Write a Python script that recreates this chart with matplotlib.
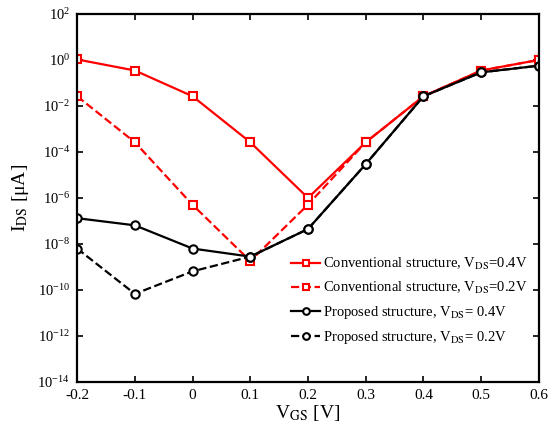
import numpy as np
import matplotlib
matplotlib.use("Agg")
import matplotlib.pyplot as plt

plt.rcParams['font.family'] = ['Liberation Serif', 'DejaVu Serif']
plt.rcParams['mathtext.fontset'] = 'stix'

vgs = [-0.2, -0.1, 0.0, 0.1, 0.2, 0.3, 0.4, 0.5, 0.6]
# log10 of I_DS [uA]
conv_04 = [0.02, -0.46, -1.58, -3.58, -6.0, -3.58, -1.58, -0.46, 0.0]
conv_02 = [-1.58, -3.58, -6.3, -8.74, -6.29, -3.58, -1.58, -0.46, 0.0]
prop_04 = [-6.88, -7.19, -8.2, -8.55, -7.35, -4.53, -1.58, -0.54, -0.25]
prop_02 = [-8.2, -10.17, -9.19, -8.55, -7.35, -4.53, -1.58, -0.54, -0.25]

labels = ["Conventional structure, V$_{\\rm DS}$=0.4V",
          "Conventional structure, V$_{\\rm DS}$=0.2V",
          "Proposed structure, V$_{\\rm DS}$= 0.4V",
          "Proposed structure, V$_{\\rm DS}$= 0.2V"]

fig = plt.figure(figsize=(5.55, 4.28), dpi=100)
ax = fig.add_axes([0.139, 0.1075, 0.832, 0.86])

mk = dict(markerfacecolor='white', markeredgewidth=1.5, markersize=6)
ax.plot(vgs, 10**np.array(conv_04), '-', color='red', marker='s', lw=1.6, label=labels[0], **mk)
ax.plot(vgs, 10**np.array(conv_02), '--', color='red', marker='s', lw=1.6, label=labels[1], **mk)
ax.plot(vgs, 10**np.array(prop_04), '-', color='black', marker='o', lw=1.6, label=labels[2], **mk)
ax.plot(vgs, 10**np.array(prop_02), '--', color='black', marker='o', lw=1.6, label=labels[3], **mk)

ax.set_yscale('log')
ax.set_ylim(1e-14, 1e2)
ax.set_xlim(-0.2, 0.6)
ax.set_yticks([10.0**k for k in range(-14, 3, 2)])
ax.minorticks_off()
ax.set_xticks([-0.2, -0.1, 0, 0.1, 0.2, 0.3, 0.4, 0.5, 0.6])
ax.set_xticklabels(['-0.2', '-0.1', '0', '0.1', '0.2', '0.3', '0.4', '0.5', '0.6'])
ax.tick_params(direction='in', top=True, right=True, labelsize=11, length=4, width=1.2)
ax.tick_params(axis='y', pad=5, labelsize=10.5)
ax.tick_params(axis='x', pad=5)
for s in ax.spines.values():
    s.set_linewidth(1.6)

ax.set_xlabel("V$_{\\rm GS}$ [V]", fontsize=14, labelpad=1)
ax.set_ylabel("I$_{\\rm DS}$ [μA]", fontsize=14, labelpad=5)

ax.legend(loc='center left', bbox_to_anchor=(0.435, 0.22), frameon=False, fontsize=10.5,
          handlelength=2.0, handletextpad=0.2, labelspacing=0.55, markerscale=0.8)

fig.savefig("out.png", dpi=100)
